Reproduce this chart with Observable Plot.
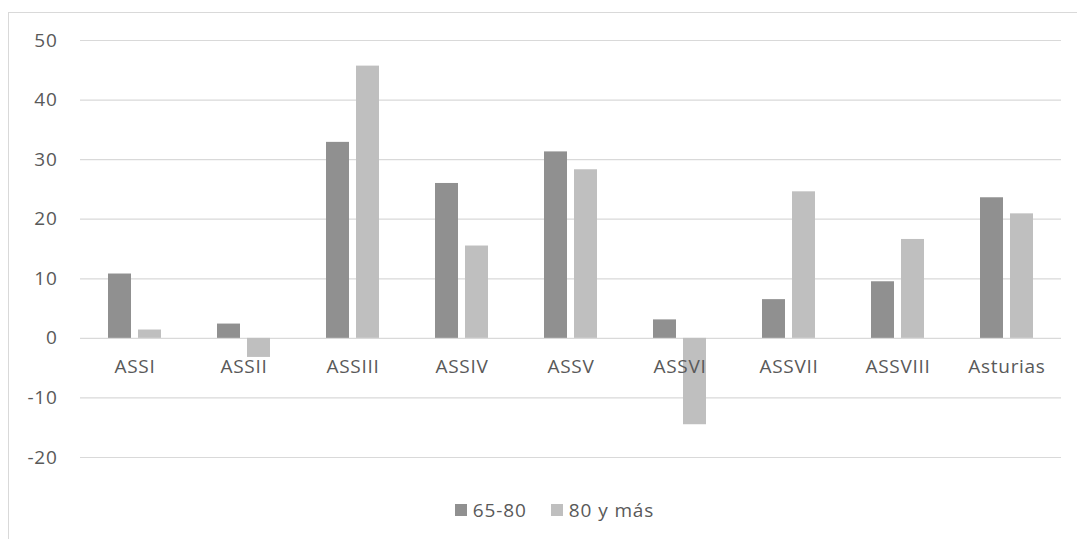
<!DOCTYPE html>
<html>
<head>
<meta charset="utf-8">
<script src="https://cdn.jsdelivr.net/npm/d3@7"></script>
<script src="https://cdn.jsdelivr.net/npm/@observablehq/plot@0.6"></script>
<style>
  html, body { margin: 0; padding: 0; background: #fff; overflow: hidden; }
  body { width: 1077px; height: 539px; position: relative; font-family: "Open Sans", "Noto Sans", sans-serif; }
  #frame { position: absolute; left: 8px; top: 12px; width: 1200px; height: 700px; border-left: 1px solid #d9d9d9; border-top: 1px solid #d9d9d9; box-sizing: border-box; }
  #chart { position: absolute; left: 0; top: 0; }
  #chart svg text { letter-spacing: 0.7px; }
  #legend { position: absolute; top: 497px; left: 0; width: 1077px; display: flex; justify-content: center; gap: 24px; font-size: 19px; letter-spacing: 0.9px; color: #595959; padding-left: 32px; box-sizing: border-box; }
  #legend .item { display: flex; align-items: center; gap: 6px; }
  #legend .sw { width: 12px; height: 12px; display: inline-block; }
</style>
</head>
<body>
<div id="frame"></div>
<div id="chart"></div>
<div id="legend"></div>
<script>
const categories = ["ASSI", "ASSII", "ASSIII", "ASSIV", "ASSV", "ASSVI", "ASSVII", "ASSVIII", "Asturias"];
const seriesNames = ["65-80", "80 y más"];
const values6580 = [10.8, 2.4, 32.9, 26.0, 31.3, 3.1, 6.5, 9.5, 23.6];
const values80mas = [1.4, -3.2, 45.7, 15.5, 28.3, -14.5, 24.6, 16.6, 20.9];
const yTicks = [-20, -10, 0, 10, 20, 30, 40, 50];
const colors = ["#909090", "#bfbfbf"];

const data = [];
categories.forEach((c, i) => {
  data.push({cat: c, serie: seriesNames[0], value: values6580[i]});
  data.push({cat: c, serie: seriesNames[1], value: values80mas[i]});
});

const chart = Plot.plot({
  width: 1077,
  height: 475,
  marginLeft: 77,
  marginRight: 14,
  marginTop: 40,
  marginBottom: 18,
  style: {fontFamily: "'Open Sans', 'Noto Sans', sans-serif", fontSize: "19px", color: "#595959", background: "transparent"},
  fx: {domain: categories, padding: 0, axis: null},
  x: {domain: seriesNames, paddingInner: 0.23, paddingOuter: 0.88, axis: null},
  y: {domain: [-20, 50], ticks: yTicks, tickSize: 0, tickPadding: 23, label: null, tickFormat: d => String(d)},
  color: {domain: seriesNames, range: colors},
  marks: [
    Plot.ruleY(yTicks, {stroke: "#d9d9d9", strokeWidth: 1.2}),
    Plot.barY(data, {fx: "cat", x: "serie", y: "value", fill: "serie"}),
    Plot.text(categories, {fx: d => d, text: d => d, y: 0, dy: 29, fill: "#595959", fontSize: 19})
  ]
});
document.getElementById("chart").appendChild(chart);

const legend = document.getElementById("legend");
seriesNames.forEach((s, i) => {
  const item = document.createElement("span");
  item.className = "item";
  const sw = document.createElement("span");
  sw.className = "sw";
  sw.style.background = colors[i];
  const t = document.createElement("span");
  t.textContent = s;
  item.appendChild(sw);
  item.appendChild(t);
  legend.appendChild(item);
});
</script>
</body>
</html>
